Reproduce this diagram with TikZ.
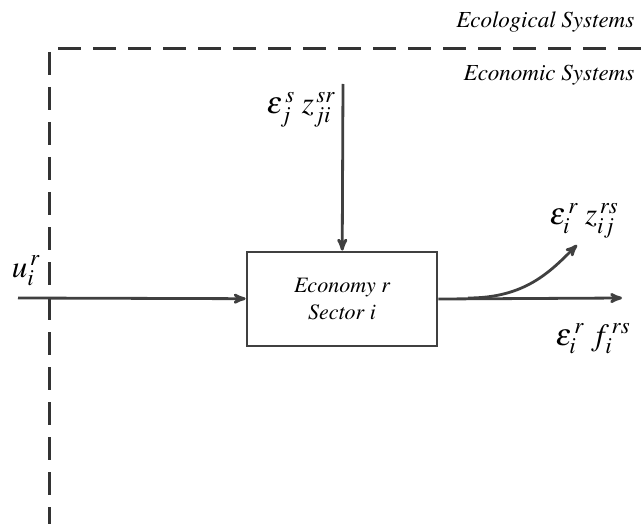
\documentclass[tikz,border=0pt]{standalone}
\usepackage[T1]{fontenc}
\usepackage{mathptmx}
\usepackage{tikz}
\usetikzlibrary{positioning,arrows}

\begin{document}
\begin{tikzpicture}[x=1pt,y=-1pt]
%% Draw sector flow diagram
   \useasboundingbox (0,0) rectangle (643,524);
   \begin{scope}[line width=2.8pt,draw=black!75,>=stealth',
		sector/.style={rectangle,draw,fill=white,minimum width=190pt,minimum height=94pt,
			align=center,font=\fontsize{22}{27}\selectfont\itshape},
		flow/.style={font=\fontsize{31}{33}\selectfont,inner sep=0pt},
		system/.style={anchor=east,font=\fontsize{23}{26}\selectfont\itshape},
		frame/.style={dash pattern=on 23pt off 12pt,line width=3pt,draw=black!80}]
   % boundaries
   \draw [frame] (58,49) -- (643,49);
   \draw [frame] (49,52) -- (49,524);
   \node [system] (eco)	at (639,22)		{Ecological Systems};
   \node [system] (econ)	at (639,75)		{Economic Systems};
   % sector block
   \node [sector] (sec)	at (342,299)		{Economy r\\Sector i};
   \coordinate (uin)	at (18,298);
   \coordinate (zin)	at (343,84);
   \coordinate (split)	at (468,298);
   \coordinate (fout)	at (622,298);
   \coordinate (zout)	at (577,245);
   \node [flow] (u)	at (26,271)		{$u_i^{\,r}$};
   \node [flow] (zji)	at (301,110)		{$\varepsilon_j^{\,s}\;z_{ji}^{\,sr}$};
   \node [flow] (zij)	at (584,221)		{$\varepsilon_i^{\,r}\;z_{ij}^{\,rs}$};
   \node [flow] (f)	at (593,339)		{$\varepsilon_i^{\,r}\;f_i^{\,rs}$};
   % flows
   \draw [->] (uin) -- (sec);
   \draw [->] (zin) -- (sec);
   \draw [->] (sec.east) -- (fout);
   \draw [->] (split) .. controls (525,298) and (550,272) .. (zout);
   \end{scope}
\end{tikzpicture}
\end{document}
